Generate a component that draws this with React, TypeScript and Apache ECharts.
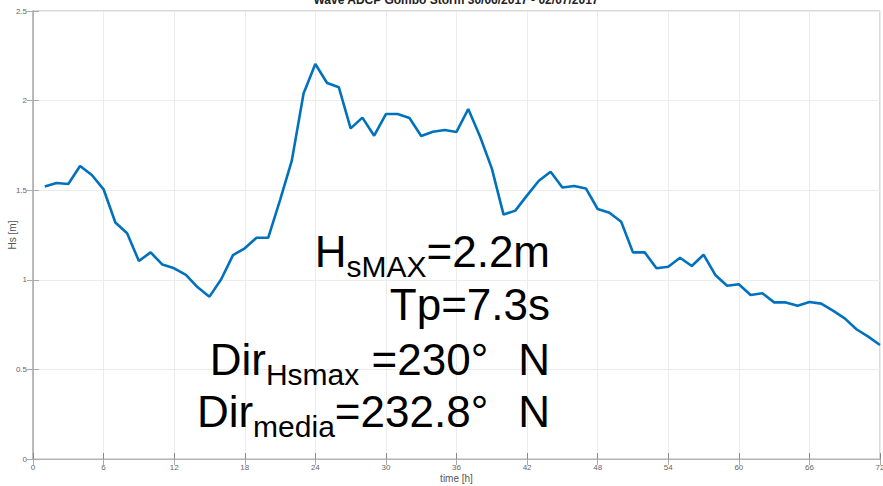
import React, { useEffect, useRef } from 'react';
import * as echarts from 'echarts';

const hours = [
  1, 2, 3, 4, 5, 6, 7, 8, 9, 10, 11, 12, 13, 14, 15, 16, 17, 18, 19, 20, 21, 22, 23, 24,
  25, 26, 27, 28, 29, 30, 31, 32, 33, 34, 35, 36, 37, 38, 39, 40, 41, 42, 43, 44, 45, 46, 47, 48,
  49, 50, 51, 52, 53, 54, 55, 56, 57, 58, 59, 60, 61, 62, 63, 64, 65, 66, 67, 68, 69, 70, 71, 72,
];

const hsValues = [
  1.52, 1.54, 1.535, 1.635, 1.585, 1.505, 1.32, 1.26, 1.105, 1.153, 1.085, 1.064,
  1.027, 0.958, 0.906, 1.003, 1.138, 1.176, 1.235, 1.235, 1.445, 1.665, 2.04, 2.204,
  2.098, 2.074, 1.845, 1.905, 1.804, 1.925, 1.925, 1.903, 1.802, 1.826, 1.836, 1.825,
  1.953, 1.8, 1.622, 1.364, 1.386, 1.471, 1.553, 1.603, 1.515, 1.523, 1.51, 1.395,
  1.374, 1.324, 1.153, 1.153, 1.064, 1.073, 1.123, 1.077, 1.14, 1.027, 0.967, 0.975,
  0.915, 0.925, 0.874, 0.874, 0.855, 0.876, 0.867, 0.828, 0.785, 0.724, 0.683, 0.636,
];

const titleText = 'Wave ADCP Gombo Storm 30/06/2017 - 02/07/2017';
const xName = 'time [h]';
const yName = 'Hs [m]';

const annotLines = [
  '{m|H}{s|sMAX}{m|=2.2m}',
  '{m|Tp=7.3s}',
  '{m|Dir}{s|Hsmax}{m| =230°}{g| }{m|N}',
  '{m|Dir}{s|media}{m|=232.8°}{g| }{m|N}',
];

const FONT = '"Liberation Sans", Arial, Helvetica, sans-serif';

export default function App() {
  const ref = useRef<HTMLDivElement>(null);
  useEffect(() => {
    if (!ref.current) return;
    const chart = echarts.init(ref.current, null, { renderer: 'svg' });
    const data = hours.map((h, i) => [h, hsValues[i]]);
    const axisColor = '#b4b4b4';
    const gridColor = '#ececec';
    const labelColor = '#666';
    const baseCenters = [251.5, 304.8, 359.8, 411.5];
    chart.setOption({
      animation: false,
      backgroundColor: '#fff',
      textStyle: { fontFamily: FONT },
      grid: {
        left: 33, right: 3, top: 11, bottom: 27,
        containLabel: false, outerBoundsMode: 'none',
        show: true, borderColor: axisColor, borderWidth: 1,
      },
      xAxis: [
        {
          type: 'value', min: 0, max: 72, interval: 6,
          name: xName, nameLocation: 'middle', nameGap: 14, nameMoveOverlap: false,
          nameTextStyle: { fontSize: 10, color: '#555', fontFamily: FONT },
          axisLine: { show: true, lineStyle: { color: axisColor, width: 1 } },
          axisTick: { show: true, inside: true, length: 6, lineStyle: { color: '#888' } },
          axisLabel: { fontSize: 8, color: labelColor, margin: 4, fontFamily: FONT },
          splitLine: { show: true, lineStyle: { color: gridColor, width: 1 } },
        },
        {
          type: 'value', min: 0, max: 72, interval: 6, position: 'top',
          axisLine: { show: true, lineStyle: { color: axisColor, width: 1 } },
          axisTick: { show: true, inside: true, length: 6, lineStyle: { color: '#aaa' } },
          axisLabel: { show: false },
          splitLine: { show: false },
        },
      ],
      yAxis: [
        {
          type: 'value', min: 0, max: 2.5, interval: 0.5,
          name: yName, nameLocation: 'middle', nameGap: 16, nameMoveOverlap: false,
          nameTextStyle: { fontSize: 10, color: '#555', fontFamily: FONT },
          axisLine: { show: true, lineStyle: { color: axisColor, width: 1 } },
          axisTick: { show: true, inside: true, length: 6, lineStyle: { color: '#aaa' } },
          axisLabel: { fontSize: 8, color: labelColor, margin: 6, fontFamily: FONT },
          splitLine: { show: true, lineStyle: { color: gridColor, width: 1 } },
        },
        {
          type: 'value', min: 0, max: 2.5, interval: 0.5, position: 'right',
          axisLine: { show: true, lineStyle: { color: axisColor, width: 1.5 } },
          axisTick: { show: true, inside: true, length: 6, lineStyle: { color: '#aaa' } },
          axisLabel: { show: false },
          splitLine: { show: false },
        },
      ],
      series: [
        {
          type: 'line',
          data,
          showSymbol: false,
          symbol: 'none',
          lineStyle: { color: '#0072BD', width: 2.6 },
          z: 5,
        },
      ],
      graphic: [
        {
          type: 'text', x: 456, y: 0, z: 100,
          style: {
            text: titleText, fill: '#222', font: `bold 12px ${FONT}`,
            align: 'center', verticalAlign: 'middle',
          },
        },
        ...annotLines.map((t, i) => ({
          type: 'text', x: 550, y: baseCenters[i], z: 100,
          style: {
            text: t,
            align: 'right',
            verticalAlign: 'middle',
            lineHeight: 53,
            fill: '#000',
            rich: {
              m: { fontSize: 44, fontFamily: FONT, fill: '#000', color: '#000', lineHeight: 53 },
              s: { fontSize: 30, fontFamily: FONT, fill: '#000', color: '#000', lineHeight: 53, padding: [30, 0, 0, 0] },
              g: { fontSize: 44, fontFamily: FONT, width: 30, lineHeight: 53 },
            },
          },
        })),
      ],
    });
    return () => chart.dispose();
  }, []);
  return (
    <div
      ref={ref}
      style={{ position: 'fixed', left: 0, top: 0, width: 883, height: 486 }}
    />
  );
}
